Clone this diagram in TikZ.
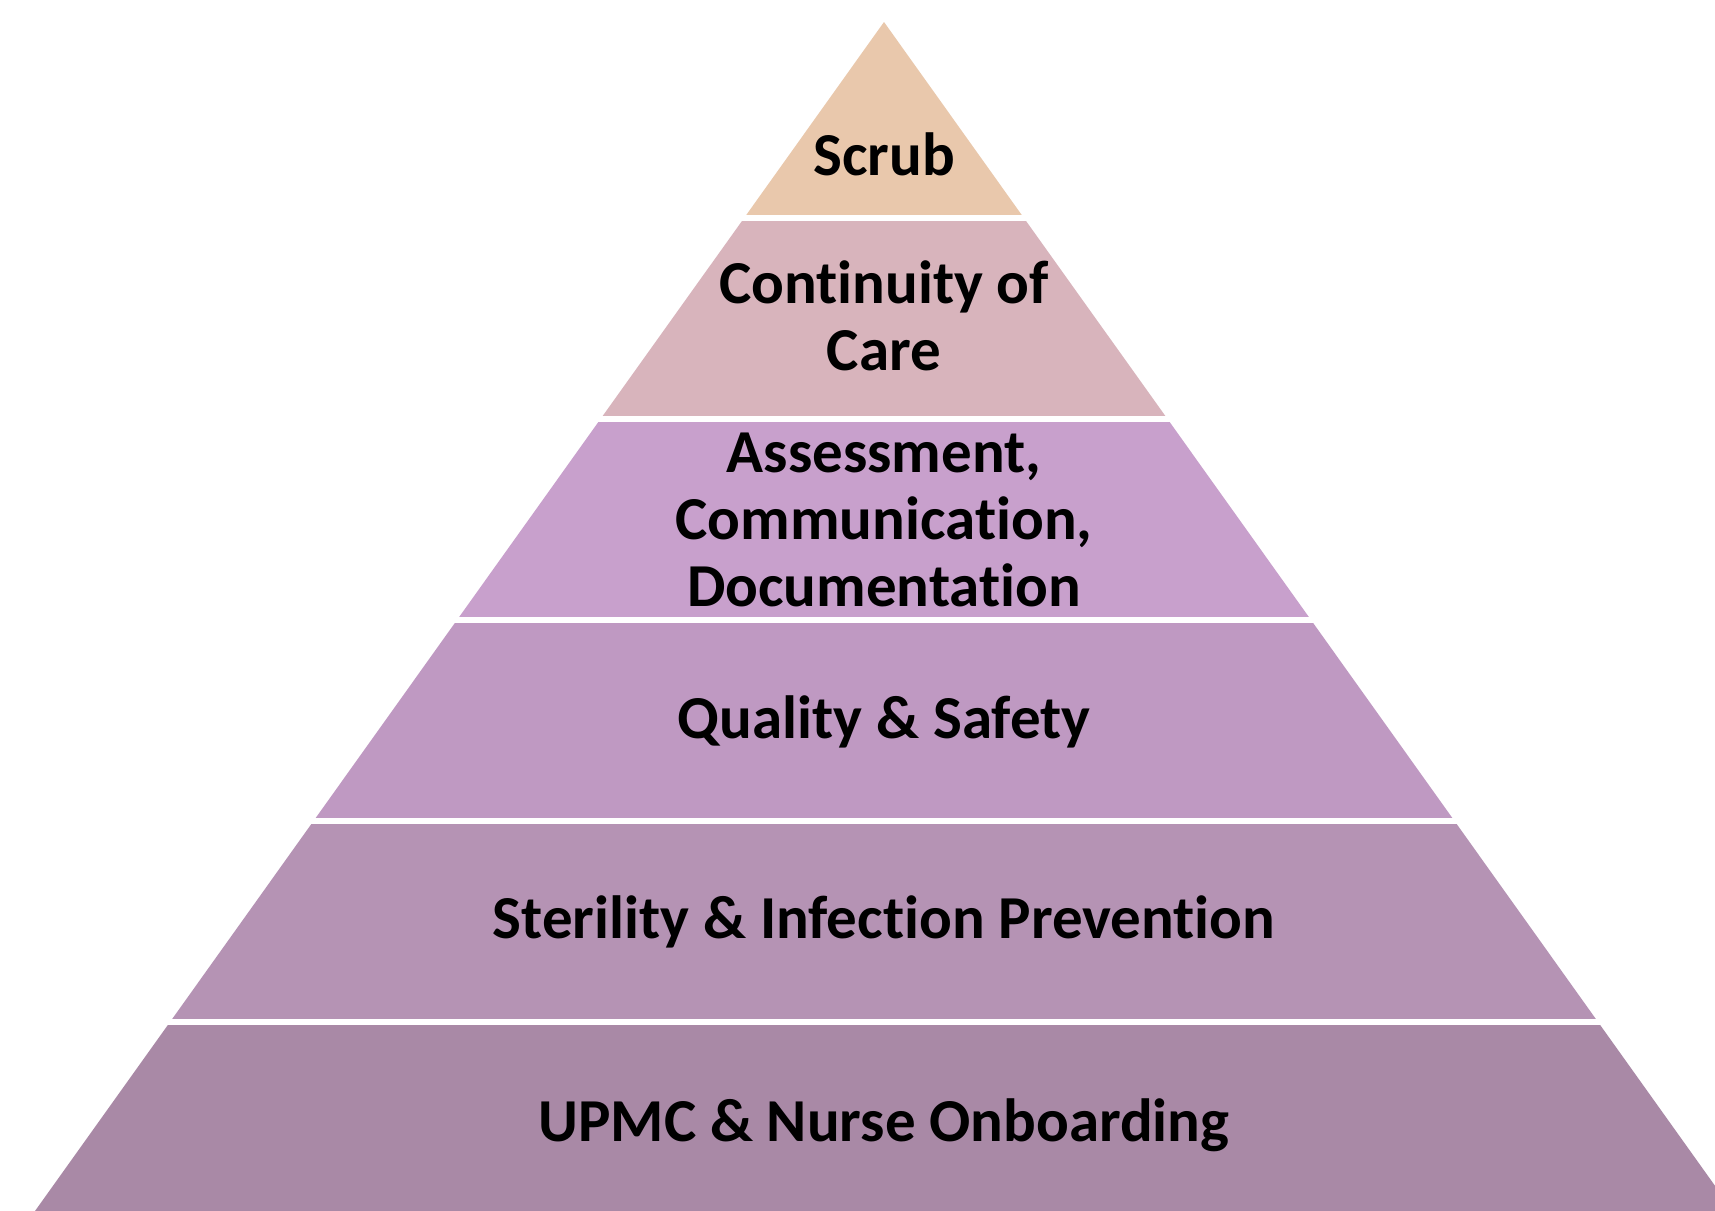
\documentclass[tikz,border=0pt]{standalone}
\usepackage{fontspec}
\setmainfont{Carlito}[Ligatures=NoCommon]
\definecolor{cScrub}{RGB}{233,200,172}
\definecolor{cCont}{RGB}{216,180,188}
\definecolor{cAssess}{RGB}{200,160,204}
\definecolor{cQual}{RGB}{191,153,194}
\definecolor{cSter}{RGB}{181,147,180}
\definecolor{cUpmc}{RGB}{169,137,166}
\begin{document}
\begin{tikzpicture}[x=1pt,y=-1pt,
  lvltext/.style={anchor=base, align=center, inner sep=0pt,
    font=\fontsize{61}{67}\selectfont\bfseries, text=black},
  gapline/.style={draw=white, line width=6pt}]
\useasboundingbox (0,0) rectangle (1715,1210);
\clip (0,0) rectangle (1715,1210);
\fill[white] (0,0) rectangle (1715,1210);
% levels
\fill[cScrub]  (884,22) -- (1023.9,218) -- (744.1,218) -- cycle;
\fill[cCont]   (744.1,218) -- (1023.9,218) -- (1167.5,419) -- (600.5,419) -- cycle;
\fill[cAssess] (600.5,419) -- (1167.5,419) -- (1311.0,620) -- (457.0,620) -- cycle;
\fill[cQual]   (457.0,620) -- (1311.0,620) -- (1454.5,821) -- (313.5,821) -- cycle;
\fill[cSter]   (313.5,821) -- (1454.5,821) -- (1598.0,1022) -- (170.0,1022) -- cycle;
\fill[cUpmc]   (170.0,1022) -- (1598.0,1022) -- (1743.7,1226) -- (24.3,1226) -- cycle;
% white separators
\foreach \yy in {218,419,620,821,1022} \draw[gapline] (0,\yy) -- (1715,\yy);
% texts (base anchor = baseline of the last line)
\node[lvltext] (scrub) at (884,175) {Scrub};
\node[lvltext] (cont) at (884,370) {Continuity of\\Care};
\node[lvltext] (assess) at (884,606) {Assessment,\\Communication,\\Documentation};
\node[lvltext] (qual) at (884,738) {Quality \& Safety};
\node[lvltext] (ster) at (884,938) {Sterility \& Infection Prevention};
\node[lvltext] (upmc) at (884,1141) {UPMC \& Nurse Onboarding};
\end{tikzpicture}
\end{document}
